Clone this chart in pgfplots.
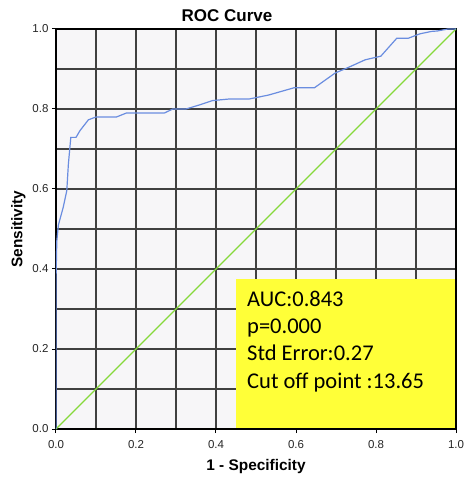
\documentclass[border=0pt]{standalone}
\usepackage{pgfplots}
\pgfplotsset{compat=1.18}
\usepackage{fontspec}
\setmainfont{Liberation Sans}
\newfontfamily\boxfont{Carlito}

\definecolor{rocblue}{HTML}{6A8DE0}
\definecolor{refgreen}{HTML}{86D93A}
\definecolor{boxyellow}{HTML}{FFFF38}
\definecolor{plotbg}{HTML}{F7F6F8}

\begin{document}
\begin{tikzpicture}
\begin{axis}[
    scale only axis,
    width=400pt, height=400pt,
    xmin=0, xmax=1, ymin=0, ymax=1,
    xtick={0,0.2,...,1}, ytick={0,0.2,...,1},
    minor tick num=1,
    minor tick length=0pt,
    major tick length=4pt,
    tick align=outside,
    xtick pos=left, ytick pos=left,
    grid=both,
    major grid style={black!75, line width=2pt},
    minor grid style={black!75, line width=2pt},
    axis line style={black, line width=2pt},
    tick style={black, line width=1pt},
    axis background/.style={fill=plotbg},
    /pgf/number format/.cd, fixed, fixed zerofill, precision=1, assume math mode=true,
    /pgfplots/.cd,
    tick label style={font=\fontsize{11.5}{13}\selectfont, text=black!85},
    xticklabel style={yshift=-4pt},
    title={\textbf{ROC Curve}},
    title style={font=\fontsize{17}{19}\selectfont, xshift=-29pt, yshift=-2pt},
    xlabel={\textbf{1 - Specificity}},
    ylabel={\textbf{Sensitivity}},
    label style={font=\fontsize{15.4}{17}\selectfont},
    xlabel style={yshift=-4pt},
]
% reference line
\addplot[refgreen, line width=1.1pt] coordinates {(0,0) (1,1)};
% ROC curve
\addplot[rocblue, line width=1.2pt] coordinates {
    (0,0) (0,0.37) (0.002,0.47) (0.006,0.51) (0.018,0.554) (0.027,0.596)
    (0.031,0.663) (0.037,0.729) (0.050,0.729) (0.060,0.746) (0.081,0.773)
    (0.100,0.780) (0.151,0.780) (0.176,0.790) (0.271,0.790) (0.292,0.800)
    (0.325,0.800) (0.358,0.810) (0.391,0.821) (0.433,0.825) (0.483,0.825)
    (0.532,0.835) (0.595,0.853) (0.646,0.853) (0.698,0.890) (0.731,0.904)
    (0.773,0.923) (0.812,0.932) (0.852,0.977) (0.881,0.977) (0.910,0.988)
    (0.939,0.994) (0.953,0.995) (0.980,1.000) (1.000,1.000)
};
\fill[boxyellow] (axis cs:0.45,0) rectangle (axis cs:1,0.375);
\draw[black, line width=2pt] (axis cs:0.45,0) -- (axis cs:1,0) -- (axis cs:1,0.375);
\node[anchor=north west, align=left, inner sep=0pt, font=\boxfont\fontsize{22.5}{27.2}\selectfont]
    at ([xshift=11pt, yshift=-12pt]axis cs:0.45,0.375)
    {AUC:0.843\\p=0.000\\Std Error:0.27\\Cut off point :13.65};
\end{axis}
\pgfresetboundingbox
\path (current axis.south west) ++(-56pt,-59pt) rectangle ([shift={(18pt,29pt)}]current axis.north east);
\end{tikzpicture}
\end{document}
